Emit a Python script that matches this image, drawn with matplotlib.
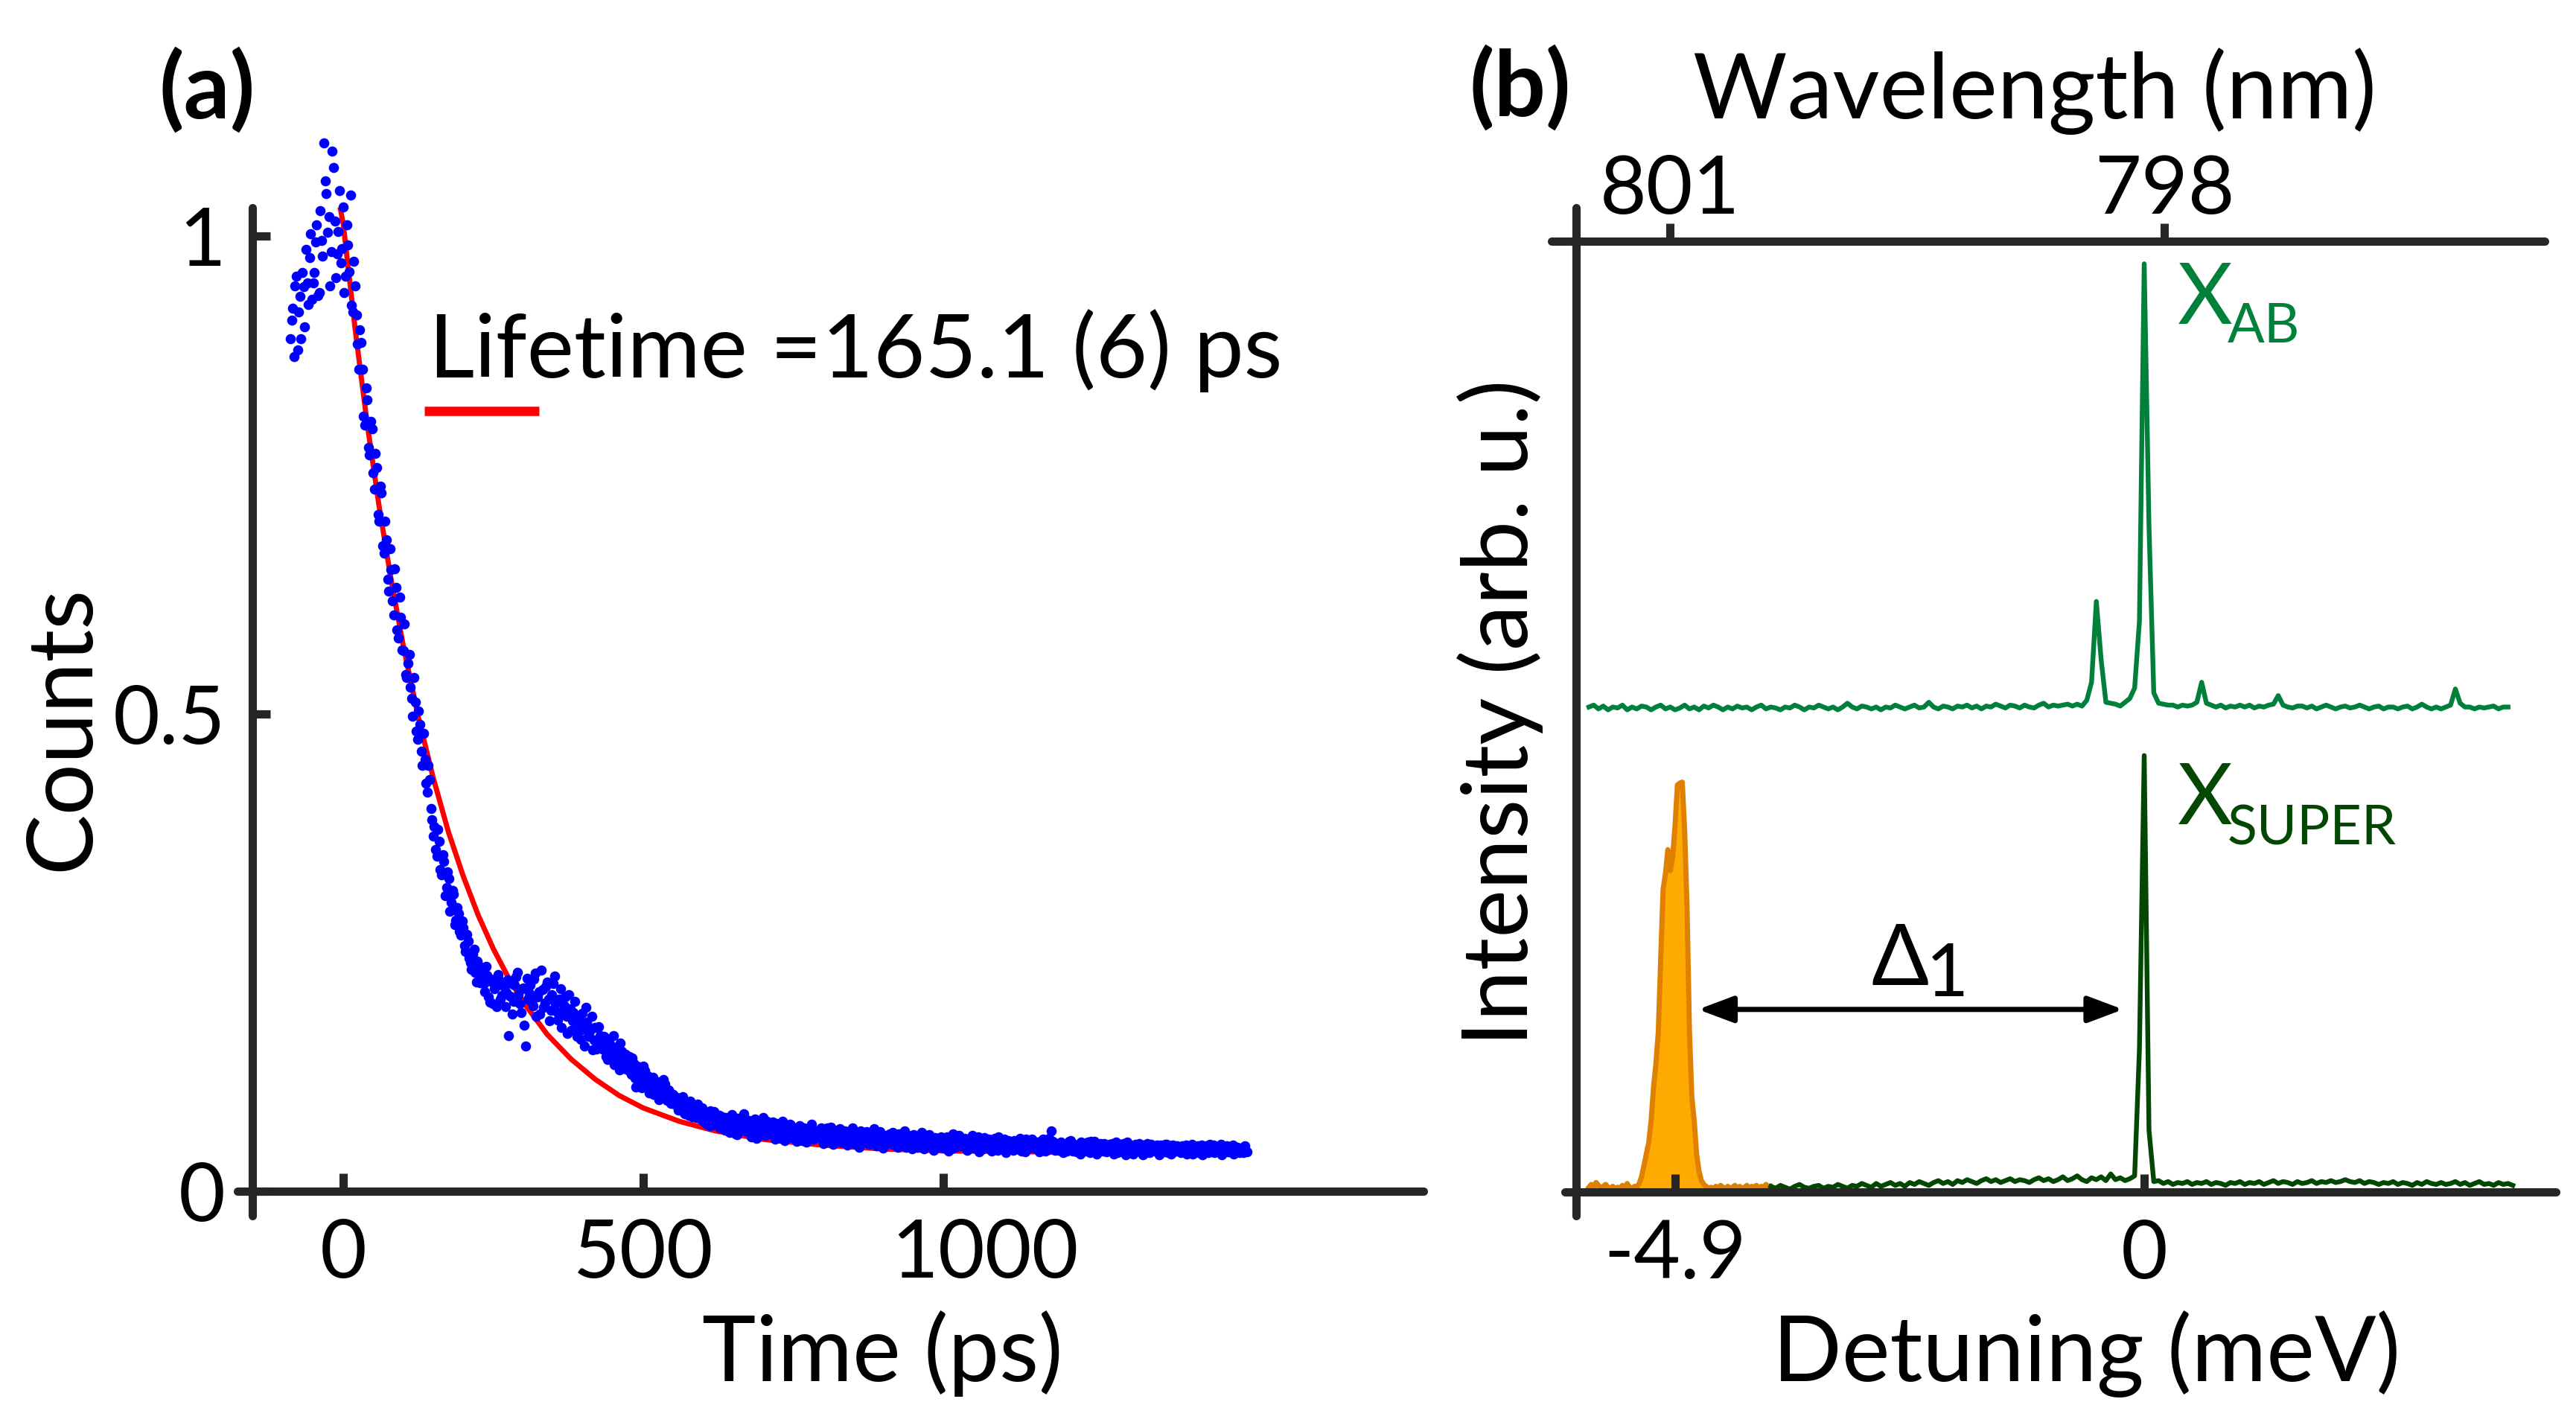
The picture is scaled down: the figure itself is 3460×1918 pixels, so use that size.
import numpy as np
import matplotlib
matplotlib.use('Agg')
import matplotlib.pyplot as plt
from matplotlib.transforms import ScaledTranslation

plt.rcParams['font.family'] = ['Lato', 'DejaVu Sans']

# ---- panel (a): time-resolved PL ----
time_ps = np.arange(-88, 1505, 4)
counts = [
    0.893, 0.925, 0.948, 0.881, 0.937, 0.962, 0.905, 0.951, 0.978, 0.934,
    0.962, 1.012, 0.941, 0.996, 1.098, 1.045, 1.021, 0.984, 1.072, 0.957,
    1.005, 0.972, 1.031, 0.958, 0.991, 1.043, 0.921, 0.948, 0.887, 0.902,
    0.861, 0.802, 0.829, 0.771, 0.798, 0.735, 0.758, 0.702, 0.731, 0.668,
    0.682, 0.628, 0.651, 0.603, 0.632, 0.579, 0.601, 0.566, 0.541, 0.553,
    0.528, 0.497, 0.512, 0.473, 0.489, 0.446, 0.452, 0.418, 0.431, 0.389,
    0.382, 0.351, 0.366, 0.331, 0.345, 0.318, 0.327, 0.302, 0.311, 0.284,
    0.291, 0.268, 0.276, 0.251, 0.262, 0.239, 0.248, 0.229, 0.241, 0.218,
    0.231, 0.209, 0.226, 0.198, 0.219, 0.212, 0.193, 0.221, 0.205, 0.214,
    0.208, 0.163, 0.217, 0.199, 0.224, 0.206, 0.187, 0.213, 0.152, 0.201,
    0.216, 0.194, 0.228, 0.203, 0.185, 0.211, 0.197, 0.219, 0.178, 0.206,
    0.225, 0.188, 0.201, 0.171, 0.194, 0.183, 0.206, 0.168, 0.187, 0.176,
    0.181, 0.159, 0.173, 0.192, 0.162, 0.169, 0.148, 0.171, 0.157, 0.163,
    0.149, 0.161, 0.138, 0.154, 0.143, 0.132, 0.151, 0.127, 0.146, 0.139,
    0.128, 0.141, 0.122, 0.134, 0.109, 0.128, 0.117, 0.131, 0.112, 0.121,
    0.109, 0.119, 0.103, 0.114, 0.098, 0.107, 0.112, 0.095, 0.104, 0.099,
    0.091, 0.098, 0.087, 0.094, 0.082, 0.089, 0.079, 0.091, 0.084, 0.077,
    0.083, 0.075, 0.081, 0.071, 0.078, 0.084, 0.069, 0.076, 0.072, 0.066,
    0.078, 0.064, 0.073, 0.061, 0.080, 0.067, 0.059, 0.075, 0.066, 0.081,
    0.062, 0.074, 0.057, 0.069, 0.055, 0.072, 0.063, 0.077, 0.058, 0.068,
    0.061, 0.072, 0.054, 0.066, 0.059, 0.073, 0.053, 0.065, 0.070, 0.056,
    0.064, 0.052, 0.068, 0.058, 0.066, 0.051, 0.060, 0.070, 0.054, 0.063,
    0.057, 0.066, 0.050, 0.061, 0.055, 0.067, 0.049, 0.060, 0.053, 0.065,
    0.052, 0.063, 0.048, 0.058, 0.066, 0.050, 0.061, 0.046, 0.059, 0.054,
    0.062, 0.049, 0.057, 0.065, 0.047, 0.055, 0.060, 0.045, 0.058, 0.052,
    0.050, 0.061, 0.053, 0.046, 0.058, 0.051, 0.063, 0.047, 0.055, 0.044,
    0.056, 0.046, 0.054, 0.061, 0.044, 0.052, 0.059, 0.048, 0.043, 0.055,
    0.049, 0.057, 0.045, 0.053, 0.042, 0.051, 0.060, 0.046, 0.050, 0.056,
    0.047, 0.055, 0.043, 0.050, 0.058, 0.045, 0.052, 0.041, 0.049, 0.056,
    0.046, 0.054, 0.042, 0.051, 0.048, 0.057, 0.044, 0.050, 0.040, 0.053,
    0.052, 0.043, 0.049, 0.045, 0.055, 0.047, 0.041, 0.051, 0.046, 0.054,
    0.045, 0.051, 0.041, 0.053, 0.047, 0.043, 0.055, 0.063, 0.044, 0.050,
    0.043, 0.051, 0.040, 0.049, 0.046, 0.053, 0.042, 0.048, 0.045, 0.039,
    0.048, 0.042, 0.051, 0.040, 0.046, 0.052, 0.039, 0.047, 0.043, 0.050,
    0.041, 0.049, 0.044, 0.039, 0.051, 0.045, 0.042, 0.050, 0.038, 0.047,
    0.044, 0.039, 0.049, 0.042, 0.047, 0.038, 0.045, 0.050, 0.040, 0.046,
    0.042, 0.048, 0.038, 0.046, 0.041, 0.049, 0.043, 0.039, 0.047, 0.042,
    0.045, 0.040, 0.044, 0.048, 0.041, 0.046, 0.039, 0.043, 0.047, 0.042,
    0.038, 0.045, 0.041, 0.049, 0.043, 0.040, 0.046, 0.042, 0.038, 0.044,
    0.047, 0.041, 0.044, 0.039, 0.046, 0.042, 0.045, 0.040, 0.043,
]

# second set of bins, shifted by half a bin
time_ps_b = np.arange(-86, 1507, 4)
counts_b = [
    0.912, 0.874, 0.958, 0.921, 0.893, 0.947, 0.986, 0.929, 1.003, 0.951,
    0.994, 0.938, 1.027, 0.979, 1.058, 1.004, 0.948, 1.089, 1.016, 0.982,
    1.048, 0.987, 0.941, 1.012, 0.963, 0.928, 0.974, 0.918, 0.861, 0.889,
    0.812, 0.841, 0.779, 0.806, 0.752, 0.773, 0.709, 0.738, 0.676, 0.702,
    0.641, 0.673, 0.618, 0.652, 0.588, 0.622, 0.567, 0.594, 0.538, 0.562,
    0.516, 0.538, 0.482, 0.503, 0.461, 0.479, 0.427, 0.446, 0.401, 0.372,
    0.358, 0.379, 0.337, 0.352, 0.309, 0.334, 0.293, 0.315, 0.279, 0.297,
    0.272, 0.283, 0.257, 0.269, 0.244, 0.232, 0.253, 0.219, 0.236, 0.224,
    0.217, 0.235, 0.203, 0.222, 0.196, 0.214, 0.227, 0.201, 0.218, 0.193,
    0.221, 0.204, 0.185, 0.216, 0.229, 0.196, 0.212, 0.174, 0.223, 0.207,
    0.198, 0.222, 0.183, 0.209, 0.231, 0.192, 0.214, 0.201, 0.189, 0.217,
    0.196, 0.179, 0.212, 0.186, 0.203, 0.165, 0.191, 0.178, 0.199, 0.162,
    0.168, 0.186, 0.152, 0.177, 0.165, 0.183, 0.158, 0.149, 0.172, 0.154,
    0.162, 0.141, 0.157, 0.147, 0.163, 0.136, 0.144, 0.155, 0.131, 0.143,
    0.137, 0.125, 0.139, 0.118, 0.131, 0.124, 0.108, 0.126, 0.115, 0.103,
    0.116, 0.101, 0.112, 0.096, 0.108, 0.117, 0.099, 0.106, 0.092, 0.101,
    0.097, 0.085, 0.093, 0.099, 0.081, 0.088, 0.094, 0.078, 0.086, 0.091,
    0.079, 0.087, 0.072, 0.082, 0.068, 0.077, 0.083, 0.070, 0.079, 0.074,
    0.069, 0.077, 0.063, 0.074, 0.068, 0.060, 0.076, 0.071, 0.064, 0.070,
    0.071, 0.060, 0.067, 0.075, 0.062, 0.058, 0.070, 0.064, 0.073, 0.061,
    0.067, 0.057, 0.071, 0.062, 0.055, 0.068, 0.063, 0.058, 0.069, 0.061,
    0.057, 0.066, 0.060, 0.053, 0.064, 0.059, 0.067, 0.055, 0.062, 0.058,
    0.063, 0.054, 0.060, 0.066, 0.052, 0.058, 0.064, 0.056, 0.061, 0.051,
    0.060, 0.055, 0.051, 0.062, 0.057, 0.049, 0.059, 0.063, 0.053, 0.058,
    0.053, 0.059, 0.061, 0.050, 0.056, 0.062, 0.048, 0.057, 0.053, 0.060,
    0.057, 0.048, 0.055, 0.060, 0.051, 0.056, 0.046, 0.058, 0.052, 0.059,
    0.050, 0.057, 0.047, 0.053, 0.058, 0.049, 0.054, 0.045, 0.056, 0.051,
    0.055, 0.046, 0.052, 0.057, 0.049, 0.044, 0.054, 0.050, 0.058, 0.047,
    0.053, 0.044, 0.051, 0.055, 0.047, 0.052, 0.057, 0.043, 0.050, 0.046,
    0.052, 0.045, 0.049, 0.055, 0.043, 0.051, 0.047, 0.054, 0.049, 0.044,
    0.047, 0.053, 0.044, 0.050, 0.042, 0.049, 0.054, 0.045, 0.051, 0.046,
    0.051, 0.044, 0.048, 0.054, 0.042, 0.049, 0.046, 0.052, 0.043, 0.048,
    0.050, 0.045, 0.048, 0.042, 0.052, 0.044, 0.049, 0.041, 0.047, 0.051,
    0.043, 0.049, 0.045, 0.052, 0.041, 0.048, 0.044, 0.050, 0.042, 0.046,
    0.048, 0.043, 0.050, 0.045, 0.040, 0.049, 0.044, 0.047, 0.051, 0.042,
    0.047, 0.041, 0.045, 0.050, 0.043, 0.048, 0.040, 0.046, 0.049, 0.043,
    0.046, 0.041, 0.048, 0.043, 0.049, 0.040, 0.045, 0.048, 0.042, 0.047,
    0.041, 0.047, 0.043, 0.039, 0.046, 0.049, 0.042, 0.045, 0.040, 0.048,
    0.043, 0.047, 0.040, 0.045, 0.048, 0.041, 0.044, 0.049, 0.042, 0.046,
    0.041, 0.045, 0.048, 0.042, 0.046, 0.040, 0.044, 0.047, 0.041,
]

# fitted mono-exponential
fit_t = [-5, 0, 20, 40, 60, 80, 100, 125, 150, 175, 200, 225, 250, 275, 300,
         340, 380, 420, 460, 500, 560, 620, 700, 800, 900, 1000, 1150, 1300, 1505]
fit_counts = [1.03, 1.014, 0.903, 0.804, 0.717, 0.640, 0.572, 0.497, 0.433, 0.377,
              0.330, 0.289, 0.254, 0.224, 0.198, 0.164, 0.138, 0.117, 0.100, 0.087,
              0.073, 0.063, 0.054, 0.048, 0.044, 0.042, 0.041, 0.040, 0.040]

time_ticks = [0, 500, 1000]
count_ticks = [0, 0.5, 1]
count_labels = ['0', '0.5', '1']

# ---- panel (b): PL spectra ----
ab_x = np.linspace(-5.80, 3.80, 193)
ab_y = [
    0.510, 0.512, 0.508, 0.511, 0.507, 0.510, 0.509, 0.512, 0.507, 0.510,
    0.508, 0.511, 0.510, 0.507, 0.510, 0.512, 0.508, 0.510, 0.507, 0.509,
    0.512, 0.508, 0.510, 0.507, 0.511, 0.509, 0.512, 0.510, 0.507, 0.510,
    0.508, 0.511, 0.509, 0.510, 0.507, 0.510, 0.512, 0.508, 0.510, 0.509,
    0.507, 0.510, 0.509, 0.512, 0.510, 0.507, 0.510, 0.509, 0.512, 0.510,
    0.508, 0.510, 0.507, 0.510, 0.514, 0.510, 0.508, 0.511, 0.510, 0.508,
    0.510, 0.507, 0.510, 0.509, 0.512, 0.510, 0.508, 0.510, 0.512, 0.509,
    0.510, 0.515, 0.510, 0.508, 0.511, 0.510, 0.508, 0.511, 0.510, 0.512,
    0.509, 0.511, 0.508, 0.511, 0.510, 0.513, 0.511, 0.509, 0.512, 0.511,
    0.509, 0.512, 0.510, 0.509, 0.512, 0.514, 0.510, 0.512, 0.511, 0.512,
    0.513, 0.511, 0.513, 0.511, 0.517, 0.536, 0.621, 0.560, 0.515, 0.514,
    0.513, 0.511, 0.515, 0.519, 0.530, 0.600, 0.976, 0.700, 0.525, 0.514,
    0.513, 0.512, 0.512, 0.510, 0.512, 0.511, 0.512, 0.515, 0.536, 0.514,
    0.512, 0.510, 0.512, 0.509, 0.511, 0.510, 0.512, 0.510, 0.512, 0.509,
    0.511, 0.510, 0.512, 0.513, 0.522, 0.512, 0.510, 0.509, 0.511, 0.511,
    0.509, 0.511, 0.508, 0.510, 0.512, 0.510, 0.508, 0.510, 0.511, 0.509,
    0.510, 0.512, 0.510, 0.508, 0.510, 0.511, 0.508, 0.510, 0.510, 0.508,
    0.510, 0.511, 0.508, 0.510, 0.513, 0.510, 0.508, 0.510, 0.508, 0.510,
    0.512, 0.529, 0.514, 0.510, 0.510, 0.508, 0.510, 0.509, 0.510, 0.511,
    0.508, 0.510, 0.510,
]

super_x = np.linspace(-3.90, 3.85, 156)
super_y = [
    0.006, 0.004, 0.007, 0.005, 0.003, 0.006, 0.008, 0.005, 0.004, 0.006,
    0.007, 0.004, 0.006, 0.005, 0.008, 0.006, 0.004, 0.007, 0.006, 0.009,
    0.007, 0.005, 0.009, 0.006, 0.008, 0.010, 0.007, 0.009, 0.006, 0.010,
    0.008, 0.011, 0.009, 0.007, 0.010, 0.012, 0.009, 0.011, 0.008, 0.012,
    0.010, 0.013, 0.011, 0.009, 0.012, 0.014, 0.011, 0.013, 0.010, 0.012,
    0.014, 0.011, 0.013, 0.012, 0.010, 0.013, 0.015, 0.012, 0.014, 0.011,
    0.013, 0.016, 0.012, 0.014, 0.017, 0.013, 0.011, 0.015, 0.013, 0.016,
    0.012, 0.019, 0.013, 0.015, 0.012, 0.014, 0.017, 0.150, 0.459, 0.065,
    0.011, 0.012, 0.009, 0.011, 0.008, 0.010, 0.009, 0.011, 0.008, 0.010,
    0.009, 0.011, 0.008, 0.010, 0.009, 0.007, 0.010, 0.009, 0.011, 0.008,
    0.010, 0.009, 0.011, 0.008, 0.010, 0.012, 0.009, 0.011, 0.010, 0.008,
    0.011, 0.009, 0.010, 0.012, 0.009, 0.011, 0.010, 0.012, 0.010, 0.011,
    0.013, 0.011, 0.010, 0.012, 0.009, 0.011, 0.010, 0.008, 0.010, 0.009,
    0.011, 0.008, 0.010, 0.009, 0.007, 0.010, 0.008, 0.011, 0.009, 0.008,
    0.010, 0.008, 0.009, 0.011, 0.008, 0.010, 0.007, 0.009, 0.011, 0.008,
    0.009, 0.007, 0.010, 0.008, 0.009, 0.007,
]

laser_x = np.linspace(-5.80, -3.90, 77)
laser_y = [
    0.005, 0.008, 0.006, 0.010, 0.007, 0.004, 0.006, 0.008, 0.005, 0.004,
    0.006, 0.003, 0.005, 0.004, 0.007, 0.004, 0.009, 0.005, 0.003, 0.006,
    0.005, 0.009, 0.016, 0.028, 0.040, 0.052, 0.075, 0.110, 0.135, 0.168,
    0.245, 0.318, 0.335, 0.360, 0.338, 0.352, 0.386, 0.428, 0.430, 0.431,
    0.380, 0.300, 0.170, 0.100, 0.075, 0.040, 0.022, 0.012, 0.008, 0.006,
    0.004, 0.005, 0.003, 0.006, 0.004, 0.007, 0.005, 0.003, 0.006, 0.004,
    0.005, 0.007, 0.004, 0.006, 0.003, 0.005, 0.007, 0.004, 0.006, 0.005,
    0.007, 0.004, 0.006, 0.005, 0.008, 0.005, 0.006,
]

detuning_ticks = [-4.9, 0]
detuning_labels = ['-4.9', '0']
wl_tick_pos = [-4.95, 0.21]
wl_labels = ['801', '798']

spine_c = '#262626'
green = '#00803a'
dark_green = '#024702'

W, H = 3460, 1918
fig = plt.figure(figsize=(W / 200, H / 200), dpi=200)


def box(x0, y0, x1, y1):
    return [x0 / W, 1 - y1 / H, (x1 - x0) / W, (y1 - y0) / H]


def style(ax):
    for sp in ax.spines.values():
        sp.set_linewidth(4)
        sp.set_color(spine_c)
        sp.set_capstyle('round')
    ax.tick_params(direction='in', length=8.5, width=4, color=spine_c,
                   labelsize=39, pad=13)


# (a)
axa = fig.add_axes(box(319, 279, 1912, 1633))
axa.plot(fit_t, fit_counts, color='red', lw=2.5, zorder=2)
axa.scatter(np.concatenate([time_ps, time_ps_b]), counts + counts_b, s=24,
            color='blue', linewidths=0, zorder=3, clip_on=False)
axa.set_xlim(-176, 1800)
axa.set_ylim(-0.026, 1.03)
axa.spines['top'].set_visible(False)
axa.spines['right'].set_visible(False)
axa.spines['left'].set_position(('data', -151))
axa.spines['bottom'].set_position(('data', 0))
axa.spines['bottom'].set_bounds(-176, 1800)
style(axa)
axa.set_xticks(time_ticks)
axa.set_yticks(count_ticks, count_labels)
# the "1000" label sits a little right of its tick in the original
lbl = axa.get_xticklabels()[2]
lbl.set_transform(lbl.get_transform() + ScaledTranslation(0.28, 0, fig.dpi_scale_trans))
axa.text(143, 0.852, 'Lifetime =165.1 (6) ps', fontsize=43, va='baseline')
axa.plot([135, 326], [0.817, 0.817], color='red', lw=4.5, solid_capstyle='butt')

# (b)
axb = fig.add_axes(box(2084, 279, 3433, 1633))
axb.fill_between(laser_x, 0, laser_y, color='#ffaa00', lw=0, zorder=1)
axb.plot(laser_x, laser_y, color='#e08000', lw=2.5, zorder=2)
axb.plot(super_x, super_y, color=dark_green, lw=2.3, zorder=2)
axb.plot(ab_x, ab_y, color=green, lw=2.3, zorder=2)
axb.set_xlim(-6.19, 4.30)
axb.set_ylim(-0.025, 1.035)
axb.spines['top'].set_visible(False)
axb.spines['right'].set_visible(False)
axb.spines['left'].set_position(('data', -5.93))
axb.spines['bottom'].set_position(('data', 0))
axb.spines['bottom'].set_bounds(-6.05, 4.30)
style(axb)
axb.set_xticks(detuning_ticks, detuning_labels)
axb.set_yticks([])

axt = axb.twiny()
axt.set_xlim(axb.get_xlim())
for s in ['left', 'right', 'bottom']:
    axt.spines[s].set_visible(False)
axt.spines['top'].set_position(('data', 1.0))
axt.spines['top'].set_bounds(-6.19, 4.18)
style(axt)
axt.tick_params(axis='x', direction='out', pad=-2)
axt.set_xticks(wl_tick_pos, wl_labels)

axb.annotate('', xy=(-4.66, 0.192), xytext=(-0.22, 0.192),
             arrowprops=dict(arrowstyle='<|-|>,head_length=0.4,head_width=0.15',
                             color='black', lw=2.5, mutation_scale=36,
                             shrinkA=0, shrinkB=0))
axb.text(-2.85, 0.218, 'Δ', fontsize=41, va='baseline')
axb.text(-2.28, 0.206, '1', fontsize=35.5, va='baseline')
axb.text(0.35, 0.913, 'X', fontsize=41, color=green, va='baseline')
axb.text(0.87, 0.893, 'AB', fontsize=26.5, color=green, va='baseline')
axb.text(0.35, 0.387, 'X', fontsize=41, color=dark_green, va='baseline')
axb.text(0.87, 0.365, 'SUPER', fontsize=26.5, color=dark_green, va='baseline')

# labels
fig.text(1185 / W, 1 - 1855 / H, 'Time (ps)', fontsize=44, ha='center', va='baseline')
fig.text(2803 / W, 1 - 1855 / H, 'Detuning (meV)', fontsize=44, ha='center', va='baseline')
fig.text(85 / W, 1 - 978 / H, 'Counts', fontsize=44, rotation=90, ha='center', va='center')
fig.text(2015 / W, 1 - 957 / H, 'Intensity (arb. u.)', fontsize=44, rotation=90,
         ha='center', va='center')
fig.text(2733 / W, 1 - 159 / H, 'Wavelength (nm)', fontsize=44, ha='center', va='baseline')
fig.text(278 / W, 1 - 122 / H, '(a)', fontsize=44, fontweight='bold', ha='center', va='center')
fig.text(2042 / W, 1 - 119 / H, '(b)', fontsize=44, fontweight='bold', ha='center', va='center')

fig.savefig('out.png', dpi=200)
